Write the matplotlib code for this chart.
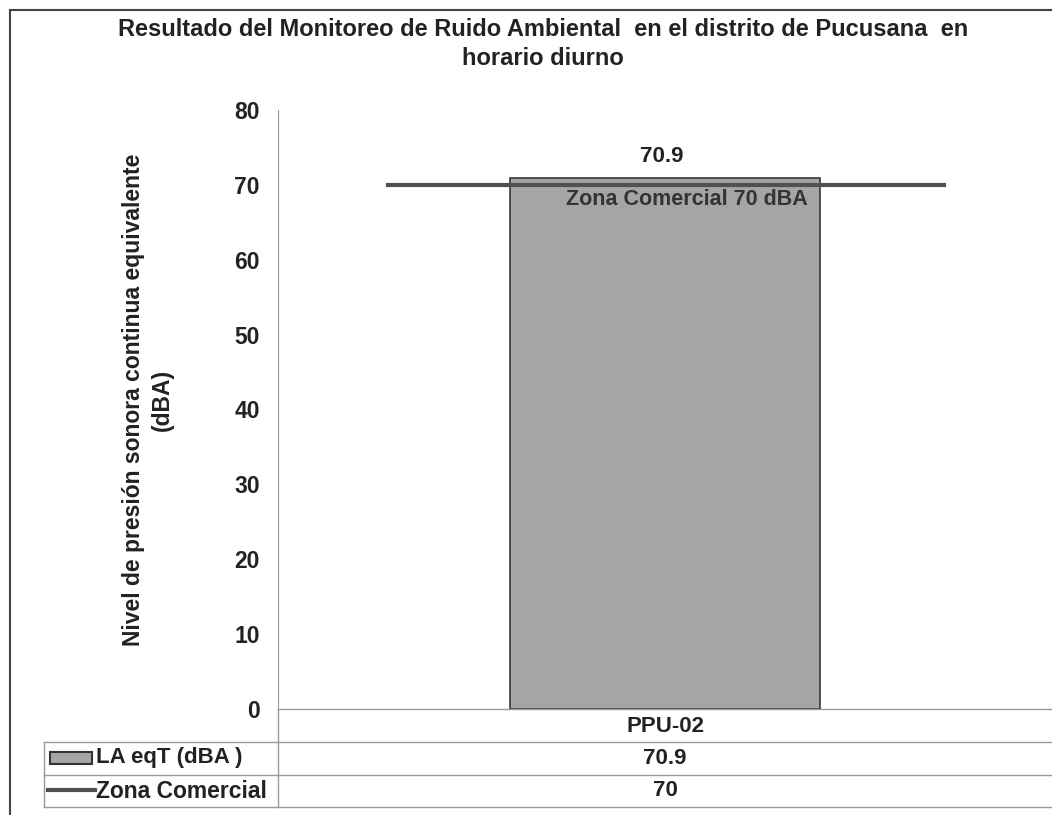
import numpy as np
import matplotlib.pyplot as plt
from matplotlib.lines import Line2D
from matplotlib.patches import Rectangle

# datos
categorias = ['PPU-02']
laeq = [70.9]
limite = [70]
nombre_serie = 'LA eqT (dBA )'
nombre_limite = 'Zona Comercial'
etiqueta_limite = 'Zona Comercial 70 dBA'
yticks = [0, 10, 20, 30, 40, 50, 60, 70, 80]
titulo = 'Resultado del Monitoreo de Ruido Ambiental  en el distrito de Pucusana  en\nhorario diurno'
ylabel = 'Nivel de presión sonora continua equivalente\n(dBA)'

plt.rcParams['font.family'] = ['Liberation Sans', 'DejaVu Sans']
W, H = 1052, 815
fig = plt.figure(figsize=(W / 100, H / 100), dpi=100)

def fx(px):
    return px / W

def fy(py):
    return 1 - py / H

txt = dict(fontweight='bold', color='#222222')

ax = fig.add_axes([fx(278), fy(709), fx(1052) - fx(278), fy(110) - fy(709)])
x = np.arange(len(categorias))
bar_color = '#a5a5a5'
line_color = '#505050'
ax.bar(x, laeq, width=0.4, color=bar_color, edgecolor='#3a3a3a', linewidth=1.2, zorder=2)
for xi, v in zip(x, laeq):
    ax.text(xi - 0.004, v + 2.9, f'{v}', ha='center', va='center', fontsize=16, **txt)
for xi, v in zip(x, limite):
    ax.plot([xi - 0.358, xi + 0.36], [v, v], color=line_color, linewidth=3, zorder=3)
    ax.text(xi + 0.028, v - 1.9, etiqueta_limite, ha='center', va='center', fontsize=15.5, zorder=4,
            fontweight='bold', color='#333333')

ax.set_xlim(-0.5, 0.5)
ax.set_ylim(0, 80)
ax.set_yticks(yticks)
ax.set_yticklabels([str(t) for t in yticks], fontsize=16.5, **txt)
ax.tick_params(axis='y', length=0, pad=13)
ax.set_xticks([])
for s in ['top', 'right', 'bottom']:
    ax.spines[s].set_visible(False)
ax.spines['left'].set_color('#999999')
fig.text(fx(148), fy(400), ylabel, rotation=90, ha='center', va='center', fontsize=16.5,
         linespacing=1.35, multialignment='center', **txt)

fig.text(fx(543), fy(44), titulo, ha='center', va='center', fontsize=17, linespacing=1.3, **txt)

# tabla de datos
gris = '#999999'
def hline(x0, x1, y, c=gris, lw=1):
    fig.add_artist(Line2D([fx(x0), fx(x1)], [fy(y), fy(y)], color=c, linewidth=lw))

def vline(xp, y0, y1, c=gris, lw=1):
    fig.add_artist(Line2D([fx(xp), fx(xp)], [fy(y0), fy(y1)], color=c, linewidth=lw))

hline(278, 1052, 709)
hline(44, 1052, 742)
hline(44, 1052, 775)
hline(44, 1052, 807)
vline(278, 709, 807)
vline(44, 742, 807)

fig.text(fx(665), fy(726), categorias[0], ha='center', va='center', fontsize=16, **txt)
fig.text(fx(665), fy(758), f'{laeq[0]}', ha='center', va='center', fontsize=16, **txt)
fig.text(fx(665), fy(791), f'{limite[0]}', ha='center', va='center', fontsize=16, **txt)

fig.add_artist(Rectangle((fx(50), fy(764)), fx(42), fy(752) - fy(764), facecolor=bar_color,
                         edgecolor='#333333', linewidth=1.5))
fig.text(fx(96), fy(758), nombre_serie, ha='left', va='center', fontsize=16, **txt)
hline(48, 95, 790, c=line_color, lw=3)
fig.text(fx(96), fy(791), nombre_limite, ha='left', va='center', fontsize=16.5, **txt)

# marco
vline(10, 10, 815, c='#444444', lw=1.5)
hline(10, 1052, 10, c='#444444', lw=1.5)

fig.savefig('out.png', dpi=100, facecolor='white')
